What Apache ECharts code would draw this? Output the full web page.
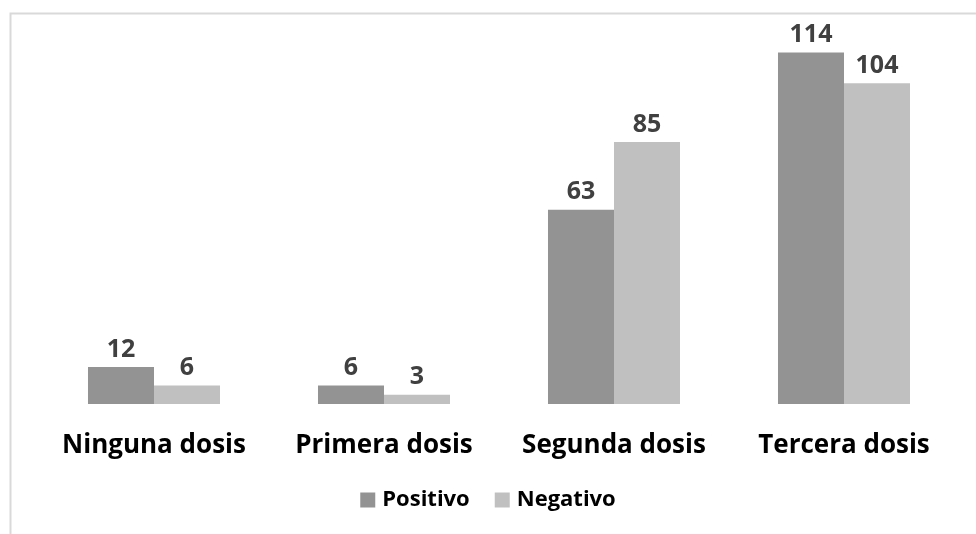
<!DOCTYPE html>
<html>
<head>
<meta charset="utf-8">
<script src="https://cdn.jsdelivr.net/npm/echarts@6/dist/echarts.min.js"></script>
<style>
  html, body { margin: 0; padding: 0; background: #fff; }
  #chart { width: 976px; height: 534px; }
</style>
</head>
<body>
<div id="chart"></div>
<script>
const categories = ['Ninguna dosis', 'Primera dosis', 'Segunda dosis', 'Tercera dosis'];
const positivo = [12, 6, 63, 114];
const negativo = [6, 3, 85, 104];

const chart = echarts.init(document.getElementById('chart'));

const labelStyle = {
  show: true,
  position: 'top',
  distance: 5,
  color: '#404040',
  fontSize: 25,
  fontWeight: 'bold',
  fontFamily: 'Open Sans'
};

chart.setOption({
  animation: false,
  graphic: [{
    type: 'rect',
    left: 8,
    top: 11,
    shape: { width: 1100, height: 700 },
    style: { fill: 'none', stroke: '#d9d9d9', lineWidth: 2 },
    silent: true
  }],
  grid: { left: 39, right: 17, top: 34, bottom: 130 },
  legend: {
    top: 484,
    left: 'center',
    itemWidth: 15,
    itemHeight: 15,
    itemGap: 25,
    icon: 'rect',
    textStyle: { fontSize: 22, fontWeight: 'bold', color: '#000', fontFamily: 'Open Sans', padding: [0, 0, 0, 2] },
    data: ['Positivo', 'Negativo']
  },
  xAxis: {
    type: 'category',
    data: categories,
    axisLine: { show: false },
    axisTick: { show: false },
    axisLabel: {
      interval: 0,
      hideOverlap: false,
      margin: 29,
      color: '#000',
      fontSize: 26,
      fontWeight: 'bold',
      fontFamily: 'Open Sans'
    }
  },
  yAxis: {
    type: 'value',
    min: 0,
    max: 120,
    show: false,
    splitLine: { show: false }
  },
  series: [
    {
      name: 'Positivo',
      type: 'bar',
      data: positivo,
      barGap: '0%',
      barCategoryGap: '42.6%',
      itemStyle: { color: '#939393' },
      label: labelStyle
    },
    {
      name: 'Negativo',
      type: 'bar',
      data: negativo,
      itemStyle: { color: '#c0c0c0' },
      label: labelStyle
    }
  ]
});
</script>
</body>
</html>
